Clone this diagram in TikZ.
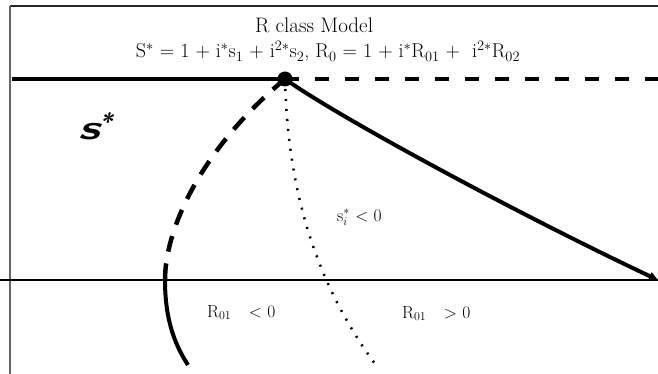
\documentclass[tikz,border=0pt]{standalone}
\usepackage{tikz}
\usetikzlibrary{arrows.meta}

\begin{document}
\begin{tikzpicture}[
 x=1pt, y=-1pt, font=\fontsize{17.5}{20}\selectfont,
 frame/.style={line width=1.6pt},
 thickline/.style={line width=4.5pt},
 dashline/.style={line width=4.5pt, dash pattern=on 14pt off 16pt},
 curvedash/.style={line width=4.5pt, dash pattern=on 16pt off 12pt},
 dotline/.style={line width=2.5pt, dash pattern=on 2pt off 8pt},
 dot/.style={circle, fill, inner sep=0pt, minimum size=15pt},
 lbl/.style={inner sep=0pt, anchor=base west},
 head/.style={lbl, anchor=base, font=\fontsize{21}{23}\selectfont},
 bigs/.style={lbl, font=\fontsize{34}{36}\selectfont\sffamily\bfseries\itshape}]
\useasboundingbox (0,0) rectangle (658,374);
\coordinate (frameTL) at (10,6);
\coordinate (frameTR) at (658,6);
\coordinate (frameBL) at (10,374);
\coordinate (topL) at (12,79);
\coordinate (topR) at (658,79);
\coordinate (axisL) at (0,280);
\coordinate (axisR) at (658,280);
\coordinate (cross) at (165,280);
\coordinate (lowend) at (188,365);
\coordinate (dotend) at (378,368);
\coordinate (tip) at (658,280);
\node[dot] (apex) at (285,79) {};

\draw[frame, black!85] (frameTR) -- (frameTL);
\draw[frame, black!60] (frameTL) -- (frameBL);
\draw[thickline] (topL) -- (apex.center);
\draw[dashline] (apex.center) -- (topR);
\draw[line width=1.8pt] (axisL) -- (axisR);
\draw[line width=4pt, -{Triangle[length=9pt,width=8pt]}] (apex.center) .. controls (340,118) and (520,215) .. (tip);
\draw[curvedash] (apex.center) .. controls (200,150) and (165,230) .. (cross);
\draw[line width=4pt] (cross) .. controls (165,320) and (175,345) .. (lowend);
\draw[dotline] (apex.center) .. controls (288,200) and (320,290) .. (dotend);

\node[head] (title) at (314,33) {R class Model};
\node[head, font=\fontsize{20}{22}\selectfont] (formula) at (328,58)
 {S$^*$ = 1 + i$^*$s$_1$ + i$^{2*}$s$_2$, R$_0$ = 1 + i$^*$R$_{01}$ + \ i$^{2*}$R$_{02}$};
\node[bigs] (sstar) at (78,140) {\scalebox{1.5}[1]{s}\textsuperscript{*}};
\node[lbl] (sineg) at (337,221) {s$_i^*$ $<$ 0};
\node[lbl] (rneg) at (207,317) {R$_{01}$\quad$<$ 0};
\node[lbl] (rpos) at (402,318) {R$_{01}$\quad$>$ 0};
\end{tikzpicture}
\end{document}
